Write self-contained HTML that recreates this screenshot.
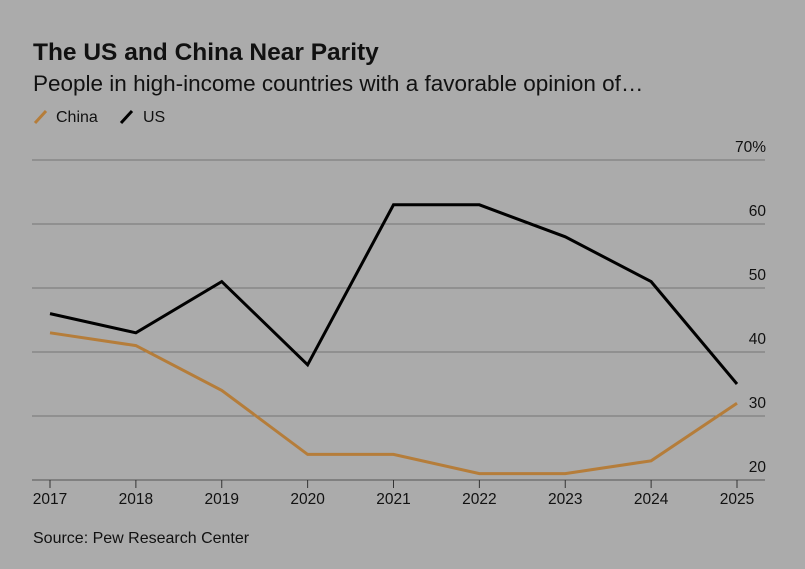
<!DOCTYPE html>
<html><head><meta charset="utf-8"><style>
body{margin:0;background:#ababab;font-family:"Liberation Sans",sans-serif;}
#c{position:relative;width:805px;height:569px;background:#ababab;overflow:hidden}
</style></head><body>
<div id="c">
<svg width="805" height="569">
<text x="33" y="60" font-size="24.5" font-weight="bold" fill="#111">The US and China Near Parity</text>
<text x="33" y="91" font-size="22.5" fill="#111">People in high-income countries with a favorable opinion of…</text>
<g>
<line x1="35" y1="123" x2="46" y2="111" stroke="#b57d3a" stroke-width="3"/>
<text x="56" y="122" font-size="16" fill="#111">China</text>
<line x1="121" y1="123" x2="132" y2="111" stroke="#000" stroke-width="3"/>
<text x="143" y="122" font-size="16" fill="#111">US</text>
</g>
<g id="grid"></g><g id="axis"></g><g id="lines"></g>
<text x="33" y="543" font-size="16" fill="#111">Source: Pew Research Center</text>
</svg>
</div>
<script>
const years=[2017,2018,2019,2020,2021,2022,2023,2024,2025];
const usValues=[46,43,51,38,63,63,58,51,35];
const chinaValues=[43,41,34,24,24,21,21,23,32];
const yTicks=[20,30,40,50,60,70];
const NS="http://www.w3.org/2000/svg";
const x=i=>50+i*(737-50)/(years.length-1);
const y=v=>480-(v-20)*6.4;
function mk(tag,attrs,parent){const e=document.createElementNS(NS,tag);for(const k in attrs)e.setAttribute(k,attrs[k]);document.getElementById(parent).appendChild(e);return e;}
yTicks.forEach(t=>{
 if(t>20){const l=mk('line',{x1:32,x2:765,y1:y(t),y2:y(t),stroke:'#747474','stroke-width':1},'grid');
 
 }
 const tx=mk('text',{x:766,y:y(t)-8,'font-size':15.5,fill:'#111','text-anchor':'end'},'grid');
 tx.textContent=t===70?'70%':String(t);
 
 
});
const base=mk('line',{x1:32,x2:765,y1:480,y2:480,stroke:'#666','stroke-width':1.2},'axis');


years.forEach((yr,i)=>{
 const tk=mk('line',{x1:x(i),x2:x(i),y1:480,y2:488,stroke:'#333','stroke-width':1},'axis');
 
 
 const t=mk('text',{x:x(i),y:504,'font-size':15.5,fill:'#111','text-anchor':'middle'},'axis');
 t.textContent=yr;
 
 
});
function series(vals,color,name){
 const p=mk('polyline',{points:vals.map((v,i)=>x(i)+','+y(v)).join(' '),fill:'none',stroke:color,'stroke-width':3,'stroke-linejoin':'miter'},'lines');
 
 
}
series(chinaValues,'#b57d3a','china-line');
series(usValues,'#000','us-line');
</script>
</body></html>
